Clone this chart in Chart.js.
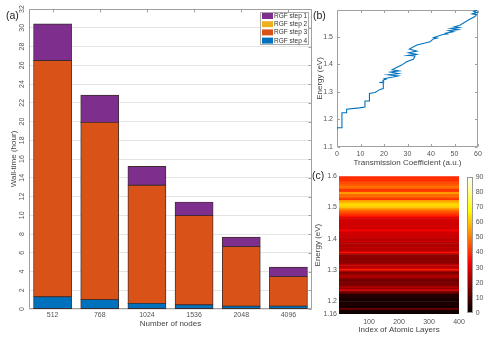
<!DOCTYPE html>
<html><head><meta charset="utf-8">
<script src="https://cdn.jsdelivr.net/npm/chart.js@4"></script>
<style>
html,body{margin:0;padding:0;background:#fff;width:493px;height:340px;overflow:hidden;font-family:"Liberation Sans",Arial,sans-serif}
canvas{position:absolute;display:block}
.pl{position:absolute;font-size:10.5px;line-height:1;color:#222;white-space:nowrap}
</style></head><body>
<canvas id="ca" width="320" height="340" style="left:0;top:0"></canvas>
<canvas id="cb" width="178" height="170" style="left:315px;top:0"></canvas>
<canvas id="cc" width="178" height="170" style="left:315px;top:170px"></canvas>
<canvas id="cd" width="33" height="170" style="left:460px;top:170px"></canvas>
<div class="pl" style="left:6px;top:10px">(a)</div>
<div class="pl" style="left:313px;top:10px">(b)</div>
<div class="pl" style="left:312px;top:170px">(c)</div>
<script>
// ---- Panel (a): wall-time per RGF step ----
const nodeCounts = ['512', '768', '1024', '1536', '2048', '4096'];
const rgfStep1 = [3.9, 2.9, 2.0, 1.45, 1.0, 1.0];
const rgfStep2 = [0, 0, 0, 0, 0, 0];
const rgfStep3 = [25.2, 18.9, 12.6, 9.5, 6.35, 3.15];
const rgfStep4 = [1.3, 1.0, 0.6, 0.45, 0.3, 0.3];

// ---- Panel (b): transmission coefficient vs energy ----
const transmission = [0, 0, 2.1, 2.1, 4.1, 4.1, 9.5, 11.9, 11.9, 13.8, 13.8, 16.2, 18.3, 19.7, 19.7, 18.0, 19.9, 19.5, 20.8, 20.2, 22.5, 24.0, 26.0, 21.8, 26.2, 22.8, 26.3, 23.5, 26.4, 27.5, 29.6, 32.5, 33.2, 30.2, 33.8, 30.5, 33.9, 30.8, 34.0, 35.3, 37.5, 39.6, 41.0, 42.5, 41.2, 45.0, 47.0, 46.2, 49.5, 47.5, 51.5, 48.5, 52.0, 50.0, 52.3, 55.9, 58.7, 59.4, 57.5, 59.5, 58.2, 59.6];
const energy = [1.163, 1.170, 1.170, 1.224, 1.224, 1.237, 1.242, 1.245, 1.267, 1.267, 1.294, 1.298, 1.309, 1.312, 1.333, 1.334, 1.336, 1.342, 1.346, 1.348, 1.352, 1.354, 1.358, 1.362, 1.366, 1.372, 1.376, 1.380, 1.393, 1.397, 1.409, 1.418, 1.430, 1.432, 1.436, 1.442, 1.448, 1.455, 1.470, 1.473, 1.477, 1.482, 1.492, 1.495, 1.497, 1.508, 1.510, 1.513, 1.518, 1.522, 1.526, 1.530, 1.533, 1.536, 1.542, 1.561, 1.573, 1.580, 1.583, 1.588, 1.592, 1.597];

// ---- Panel (c): map value per energy row (bottom 1.160 eV upward, 0.005 eV rows) ----
const mapValues = [2, 2, 3, 14, 3, 3, 4, 3, 4, 3, 4, 5,
  5, 12, 18, 28, 20, 24, 17, 15, 18, 14, 16, 22, 24, 20, 17, 22,
  38, 26, 24, 26, 20, 18, 19, 17, 19, 18, 22, 36, 25, 24, 25, 23, 24, 22, 28, 24,
  26, 27, 26, 28, 27, 34, 28, 27, 28, 27, 28, 27, 29, 28, 36, 40, 42, 46, 48, 55,
  60, 63, 62, 58, 54, 40, 45, 48, 47, 58, 42, 40, 47, 49, 46, 44, 42, 40, 40, 39];
const mapEnergyStart = 1.16, mapEnergyStep = 0.005;
const layerRange = [0, 400];
const mapEnergyTicks = [1.16, 1.2, 1.3, 1.4, 1.5, 1.6];
const colorbarRange = [0, 90];

const FONT = '"Liberation Sans", Arial, sans-serif';
Chart.defaults.font.family = FONT;
Chart.defaults.color = '#555';
Chart.defaults.animation = false;

function hot(v) {
  const t = Math.max(0, Math.min(1, v / colorbarRange[1]));
  const r = Math.min(1, t / 0.375), g = Math.max(0, Math.min(1, (t - 0.375) / 0.375)), b = Math.max(0, Math.min(1, (t - 0.75) / 0.25));
  return `rgb(${Math.round(r * 255)},${Math.round(g * 255)},${Math.round(b * 255)})`;
}

const boxPlugin = {
  id: 'mbox',
  beforeDatasetsDraw(chart, args, o) {
    const { ctx, chartArea: a } = chart;
    ctx.save();
    ctx.strokeStyle = o.color; ctx.lineWidth = 1;
    const L = Math.round(a.left) + 0.5, R = Math.round(a.right) - 0.5, T = Math.round(a.top) + 0.5, B = Math.round(a.bottom) - 0.5;
    ctx.beginPath();
    const xs = chart.scales[o.x], ys = chart.scales[o.y];
    if (xs) xs.ticks.forEach((t, i) => {
      const p = Math.round(xs.getPixelForTick(i)) + 0.5;
      if (o.xSides.includes('top')) { ctx.moveTo(p, T); ctx.lineTo(p, T + o.len); }
      if (o.xSides.includes('bottom')) { ctx.moveTo(p, B); ctx.lineTo(p, B - o.len); }
    });
    if (ys) ys.ticks.forEach((t, i) => {
      const p = Math.round(ys.getPixelForTick(i)) + 0.5;
      if (o.ySides.includes('left')) { ctx.moveTo(L, p); ctx.lineTo(L + o.len, p); }
      if (o.ySides.includes('right')) { ctx.moveTo(R, p); ctx.lineTo(R - o.len, p); }
    });
    ctx.rect(L, T, R - L, B - T);
    ctx.stroke();
    ctx.restore();
  }
};

const rotLabels = {
  id: 'rotLabels',
  afterDraw(chart) {
    const { ctx } = chart; const y = chart.scales.y;
    ctx.save();
    ctx.font = '7px ' + FONT; ctx.fillStyle = '#555'; ctx.textAlign = 'center'; ctx.textBaseline = 'middle';
    y.ticks.forEach((t, i) => {
      const p = y.getPixelForTick(i);
      ctx.save(); ctx.translate(22.5, p); ctx.rotate(-Math.PI / 2); ctx.fillText(t.label, 0, 0); ctx.restore();
    });
    ctx.restore();
  }
};

const legendPlugin = {
  id: 'inlegend',
  afterDraw(chart) {
    const { ctx, chartArea: a } = chart;
    const items = chart.data.datasets.slice().reverse();
    const w = 49, h = 33, x0 = Math.round(a.right) - 3 - w, y0 = Math.round(a.top) + 3;
    ctx.save();
    ctx.fillStyle = '#fff'; ctx.fillRect(x0, y0, w, h);
    ctx.strokeStyle = '#aaa'; ctx.lineWidth = 1; ctx.strokeRect(x0 + 0.5, y0 + 0.5, w - 1, h - 1);
    ctx.font = '6.5px ' + FONT; ctx.textBaseline = 'middle'; ctx.textAlign = 'left';
    items.forEach((d, i) => {
      const cy = y0 + 4 + i * 8.2;
      ctx.fillStyle = d.backgroundColor; ctx.fillRect(x0 + 2, cy - 3, 11, 6);
      ctx.fillStyle = '#333'; ctx.fillText(d.label, x0 + 14, cy + 0.3);
    });
    ctx.restore();
  }
};

const colorbarPlugin = {
  id: 'cbar',
  beforeDatasetsDraw(chart) {
    const { ctx, chartArea: a } = chart; const y = chart.scales.y;
    const top = y.getPixelForValue(colorbarRange[1]), bot = y.getPixelForValue(colorbarRange[0]);
    const g = ctx.createLinearGradient(0, bot, 0, top);
    [0, 0.375, 0.75, 1].forEach(f => g.addColorStop(f, hot(f * colorbarRange[1])));
    ctx.save();
    ctx.fillStyle = g; ctx.fillRect(a.left, top, a.right - a.left, bot - top);
    ctx.strokeStyle = '#999'; ctx.lineWidth = 1;
    ctx.strokeRect(Math.round(a.left) + 0.5, Math.round(top) + 0.5, Math.round(a.right - a.left) - 1, Math.round(bot - top) - 1);
    ctx.restore();
  }
};

// Panel (a)
const style = { borderColor: '#3a2c2c', borderWidth: 0.9, borderSkipped: false, inflateAmount: 0.5, barPercentage: 0.8, categoryPercentage: 1 };
new Chart(document.getElementById('ca'), {
  type: 'bar',
  data: {
    labels: nodeCounts,
    datasets: [
      Object.assign({ label: 'RGF step 4', data: rgfStep4, backgroundColor: '#0072BD' }, style),
      Object.assign({ label: 'RGF step 3', data: rgfStep3, backgroundColor: '#D95319' }, style),
      Object.assign({ label: 'RGF step 2', data: rgfStep2, backgroundColor: '#EDB120' }, style),
      Object.assign({ label: 'RGF step 1', data: rgfStep1, backgroundColor: '#7E2F8E' }, style)
    ]
  },
  options: {
    responsive: false, animation: false,
    layout: { padding: { top: 9, right: 8, left: 0, bottom: 0 } },
    plugins: { legend: { display: false }, tooltip: { enabled: false },
      mbox: { color: '#a0a0a0', x: 'x', y: 'y', xSides: ['top'], ySides: ['right'], len: 3 } },
    scales: {
      x: { stacked: true, grid: { display: false, drawTicks: false }, border: { display: false },
        ticks: { font: { size: 7 }, padding: 2, color: '#555' },
        title: { display: true, text: 'Number of nodes', font: { size: 8 }, color: '#444', padding: { top: 0, bottom: 11 } },
        afterFit: s => { s.height = 31; } },
      y: { stacked: true, min: 0, max: 32, ticks: { display: false, stepSize: 2 },
        grid: { color: '#e4e4e4', drawTicks: false }, border: { display: false },
        title: { display: true, text: 'Wall-time (hour)', font: { size: 8 }, color: '#444', padding: { top: 8.5, bottom: 0 } },
        afterFit: s => { s.width = 29; } }
    }
  },
  plugins: [boxPlugin, rotLabels, legendPlugin]
});

// Panel (b)
new Chart(document.getElementById('cb'), {
  type: 'line',
  data: { datasets: [{ data: transmission.map((t, i) => ({ x: t, y: energy[i] })), borderColor: '#0072BD', borderWidth: 1.1, pointRadius: 0, tension: 0, fill: false }] },
  options: {
    responsive: false, animation: false,
    layout: { padding: { top: 10, right: 15, left: 0, bottom: 0 } },
    plugins: { legend: { display: false }, tooltip: { enabled: false },
      mbox: { color: '#a0a0a0', x: 'x', y: 'y', xSides: ['top', 'bottom'], ySides: ['left', 'right'], len: 2.5 } },
    scales: {
      x: { type: 'linear', min: 0, max: 60, ticks: { stepSize: 10, font: { size: 7 }, padding: 3 },
        grid: { display: false, drawTicks: false }, border: { display: false },
        title: { display: true, text: 'Transmission Coefficient (a.u.)', font: { size: 8 }, color: '#444', padding: { top: 0, bottom: 2.2 } },
        afterFit: s => { s.height = 23; } },
      y: { type: 'linear', min: 1.1, max: 1.597, ticks: { stepSize: 0.1, includeBounds: false, font: { size: 7 }, padding: 4 },
        grid: { display: false, drawTicks: false }, border: { display: false },
        title: { display: true, text: 'Energy (eV)', font: { size: 8 }, color: '#444', padding: { top: 0.2, bottom: 0 } },
        afterFit: s => { s.width = 22; } }
    }
  },
  plugins: [boxPlugin]
});

// Panel (c)
const mapRows = mapValues.map((v, i) => (mapEnergyStart + mapEnergyStep * i).toFixed(3));
new Chart(document.getElementById('cc'), {
  type: 'bar',
  data: { labels: mapRows, datasets: [{ data: mapValues.map(() => layerRange), backgroundColor: mapValues.map(hot), borderWidth: 0, barPercentage: 1, categoryPercentage: 1, xAxisID: 'x', yAxisID: 'y' }] },
  options: {
    indexAxis: 'y', responsive: false, animation: false,
    layout: { padding: { top: 5, right: 34, left: 0, bottom: 0 } },
    plugins: { legend: { display: false }, tooltip: { enabled: false } },
    scales: {
      x: { type: 'linear', min: layerRange[0], max: layerRange[1], offset: false, ticks: { stepSize: 100, font: { size: 7 }, padding: 3.5 },
        afterBuildTicks: s => { s.ticks = s.ticks.filter(t => t.value > 0); },
        grid: { display: false, drawTicks: false }, border: { display: false },
        title: { display: true, text: 'Index of Atomic Layers', font: { size: 8 }, color: '#444', padding: { top: 0, bottom: 5.2 } },
        afterFit: s => { s.height = 26; } },
      y: { type: 'category', display: false, reverse: true, offset: true },
      yE: { type: 'linear', position: 'left', offset: false, min: mapEnergyTicks[0], max: mapEnergyTicks[mapEnergyTicks.length - 1],
        afterBuildTicks: s => { s.ticks = mapEnergyTicks.map(v => ({ value: v })); },
        ticks: { font: { size: 7 }, padding: 2, callback: v => String(+Number(v).toFixed(2)) },
        grid: { display: false, drawTicks: false, offset: false }, border: { display: false },
        title: { display: true, text: 'Energy (eV)', font: { size: 8 }, color: '#444', padding: { top: -1.8, bottom: 0 } },
        afterFit: s => { s.width = 24; } }
    }
  }
});

// Colorbar
new Chart(document.getElementById('cd'), {
  type: 'scatter',
  data: { datasets: [{ data: [] }] },
  options: {
    responsive: false, animation: false,
    layout: { padding: { top: 5.5, right: 0, left: 7, bottom: 27 } },
    plugins: { legend: { display: false }, tooltip: { enabled: false } },
    scales: {
      x: { display: false, min: 0, max: 1 },
      y: { position: 'right', min: colorbarRange[0], max: colorbarRange[1], ticks: { stepSize: 10, font: { size: 7 }, padding: 2.7 },
        grid: { display: false, drawTicks: false }, border: { display: false },
        afterFit: s => { s.width = 20; } }
    }
  },
  plugins: [colorbarPlugin]
});
</script>
</body></html>
